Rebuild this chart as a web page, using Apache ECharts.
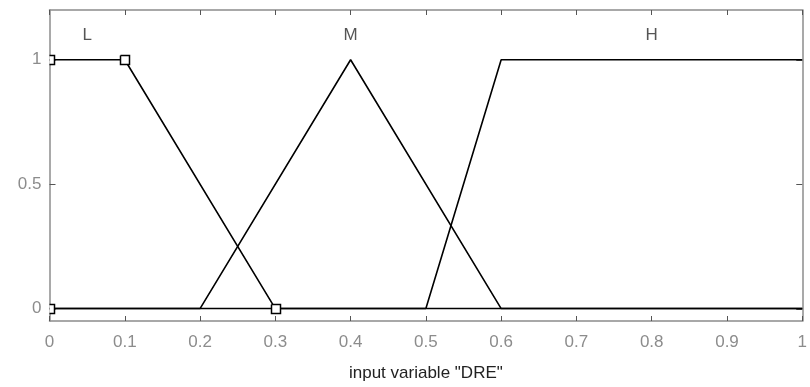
<!DOCTYPE html>
<html>
<head>
<meta charset="utf-8">
<script src="https://cdn.jsdelivr.net/npm/echarts@6/dist/echarts.min.js"></script>
<style>
  html, body { margin: 0; padding: 0; background: #fff; }
  #chart { width: 810px; height: 387px; }
</style>
</head>
<body>
<div id="chart"></div>
<script>
// Membership functions of the input variable "DRE" over [0, 1]
const xTicks = [0, 0.1, 0.2, 0.3, 0.4, 0.5, 0.6, 0.7, 0.8, 0.9, 1];
const yTicks = [0, 0.5, 1];

const mfNames = ['L', 'M', 'H'];
const mfLabelX = [0.05, 0.4, 0.8];
const mfLabelY = [1.1, 1.1, 1.1];

const mfL = [[0, 1], [0.1, 1], [0.3, 0], [1, 0]];
const mfM = [[0, 0], [0.2, 0], [0.4, 1], [0.6, 0], [1, 0]];
const mfH = [[0, 0], [0.5, 0], [0.6, 1], [1, 1]];

// vertices of the selected function (L), drawn as square handles
const handlesL = [[0, 0], [0, 1], [0.1, 1], [0.3, 0]];

const axisGray = '#8c8c8c';
const tickColor = '#555';
const fontFamily = '"Liberation Sans", Arial, sans-serif';

function mfSeries(data) {
  return {
    type: 'line',
    data: data,
    showSymbol: false,
    symbol: 'none',
    lineStyle: { color: '#000', width: 1.6 },
    z: 3,
    silent: true
  };
}

const frameLine = { show: true, onZero: false, lineStyle: { color: axisGray, width: 1.5 } };

const chart = echarts.init(document.getElementById('chart'), null, { renderer: 'canvas' });

const option = {
  animation: false,
  backgroundColor: '#fff',
  grid: { left: 49.5, right: 3, top: 10, bottom: 63 },
  xAxis: [
    {
      type: 'value', min: 0, max: 1, interval: 0.1,
      axisLine: frameLine,
      axisTick: { show: true, inside: true, length: 5, lineStyle: { color: tickColor, width: 1 } },
      axisLabel: {
        color: axisGray, fontSize: 17, fontFamily: fontFamily, margin: 13,
        customValues: xTicks
      },
      splitLine: { show: false },
      name: 'input variable "DRE"',
      nameLocation: 'middle',
      nameGap: 44,
      nameTextStyle: { color: '#222', fontSize: 17, fontFamily: fontFamily }
    },
    {
      type: 'value', min: 0, max: 1, interval: 0.1, position: 'top',
      axisLine: frameLine,
      axisTick: { show: true, inside: true, length: 5, lineStyle: { color: tickColor, width: 1 } },
      axisLabel: { show: false },
      splitLine: { show: false }
    }
  ],
  yAxis: [
    {
      type: 'value', min: -0.05, max: 1.2,
      axisLine: frameLine,
      axisTick: { show: false },
      axisLabel: {
        color: axisGray, fontSize: 17, fontFamily: fontFamily, margin: 8,
        customValues: yTicks
      },
      splitLine: { show: false }
    },
    {
      type: 'value', min: -0.05, max: 1.2, position: 'right',
      axisLine: frameLine,
      axisTick: { show: false },
      axisLabel: { show: false },
      splitLine: { show: false }
    }
  ],
  series: [
    mfSeries(mfL),
    mfSeries(mfM),
    mfSeries(mfH),
    {
      // inward y ticks on the left and right frame edges
      type: 'custom',
      z: 2,
      silent: true,
      data: yTicks.map(function (v) { return [0, v]; }),
      renderItem: function (params, api) {
        const cs = params.coordSys;
        const y = Math.round(api.coord([0, api.value(1)])[1]) + 0.5;
        const len = 6;
        return {
          type: 'group',
          children: [
            { type: 'line', shape: { x1: cs.x, y1: y, x2: cs.x + len, y2: y }, style: { stroke: tickColor, lineWidth: 1 } },
            { type: 'line', shape: { x1: cs.x + cs.width - len, y1: y, x2: cs.x + cs.width, y2: y }, style: { stroke: tickColor, lineWidth: 1 } }
          ]
        };
      }
    },
    {
      // square vertex handles, cut off at the frame edge
      type: 'custom',
      z: 4,
      silent: true,
      data: handlesL,
      renderItem: function (params, api) {
        const cs = params.coordSys;
        const p = api.coord([api.value(0), api.value(1)]);
        const s = 9;
        const left = Math.round(p[0] - s / 2) + 0.5;
        const top = Math.round(p[1] - s / 2) + 0.5;
        const right = left + s;
        const bottom = top + s;
        const x0 = Math.max(left, cs.x);
        const x1 = Math.min(right, cs.x + cs.width);
        const pts = [];
        if (left >= cs.x) {
          pts.push([x0, top], [x1, top], [x1, bottom], [x0, bottom], [x0, top]);
        } else {
          pts.push([x0, top], [x1, top], [x1, bottom], [x0, bottom]);
        }
        return {
          type: 'group',
          children: [
            { type: 'rect', shape: { x: x0, y: top, width: x1 - x0, height: s }, style: { fill: '#fff', stroke: null } },
            { type: 'polyline', shape: { points: pts }, style: { fill: null, stroke: '#000', lineWidth: 1.5 } }
          ]
        };
      }
    },
    {
      type: 'scatter',
      symbolSize: 0,
      data: mfNames.map(function (n, i) { return { name: n, value: [mfLabelX[i], mfLabelY[i]] }; }),
      label: {
        show: true,
        position: 'inside',
        formatter: function (p) { return p.name; },
        color: '#2a2a2a',
        fontSize: 17,
        fontFamily: fontFamily
      },
      silent: true
    }
  ]
};

chart.setOption(option);
</script>
</body>
</html>
